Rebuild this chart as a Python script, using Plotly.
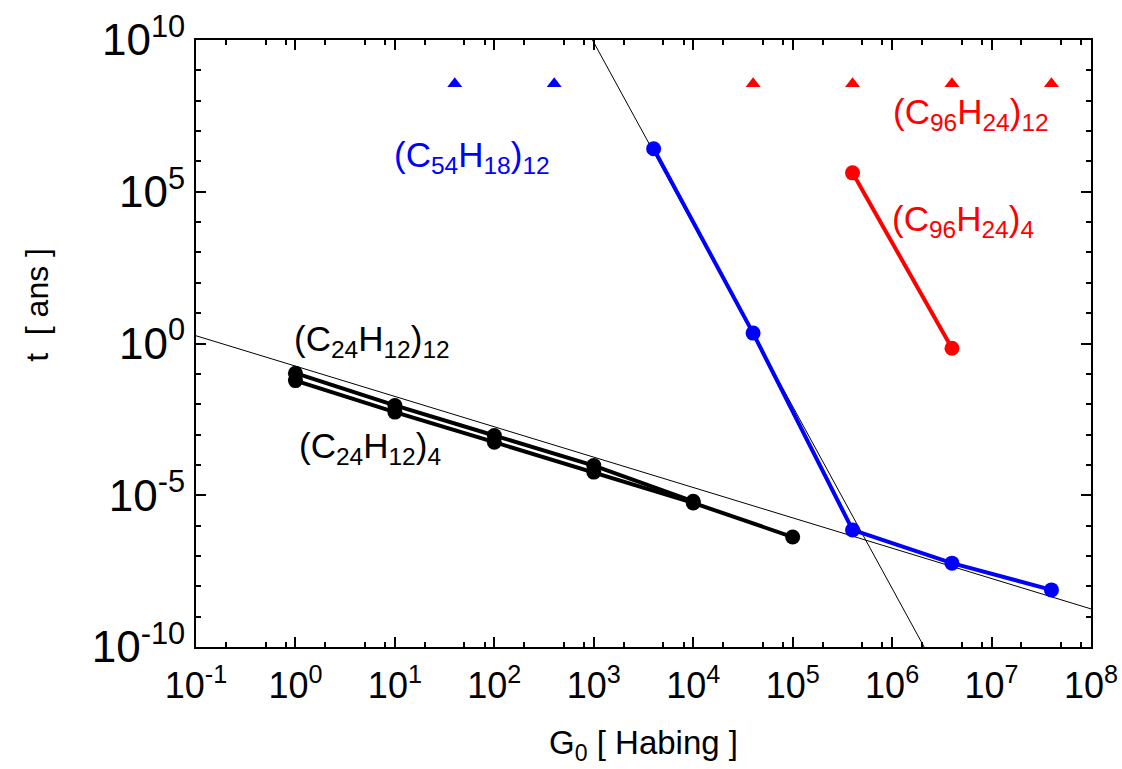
import plotly.graph_objects as go

# ---- data ----
g_c24_12 = [1, 10, 100, 1000, 1e4]
t_c24_12 = [0.105, 9.1e-3, 9.3e-4, 9.5e-5, 6.3e-6]

g_c24_4 = [1, 10, 100, 1000, 1e4, 1e5]
t_c24_4 = [0.060, 5.5e-3, 5.6e-4, 5.8e-5, 5.6e-6, 4.2e-7]

g_c54_12 = [4e3, 4e4, 4e5, 4e6, 4e7]
t_c54_12 = [2.6e6, 2.2, 7.2e-7, 5.8e-8, 7.6e-9]

g_c96_4 = [4e5, 4e6]
t_c96_4 = [4.2e5, 0.70]

g_tri_blue = [40, 400]
t_tri_blue = [3.6e8, 3.6e8]
g_tri_red = [4e4, 4e5, 4e6, 4e7]
t_tri_red = [3.6e8, 3.6e8, 3.6e8, 3.6e8]

# thin reference lines (end points)
g_refA = [0.1, 1e8]
t_refA = [1.8, 1.8e-9]
g_refB = [970, 2.1e6]
t_refB = [1e10, 1e-10]

x_tick_exp = [-1, 0, 1, 2, 3, 4, 5, 6, 7, 8]
y_tick_exp = [-10, -5, 0, 5, 10]

BLUE = "#0000ff"
RED = "#ff0000"
BLACK = "#000000"
FONT = "Liberation Sans, Arial, Helvetica, sans-serif"

fig = go.Figure()

for gx, ty in [(g_refA, t_refA), (g_refB, t_refB)]:
    fig.add_trace(go.Scatter(x=gx, y=ty, mode="lines",
                             line=dict(color=BLACK, width=1), showlegend=False,
                             hoverinfo="skip"))

def series(gx, ty, color):
    fig.add_trace(go.Scatter(x=gx, y=ty, mode="lines+markers",
                             line=dict(color=color, width=4),
                             marker=dict(color=color, size=15, symbol="circle"),
                             showlegend=False))

series(g_c24_12, t_c24_12, BLACK)
series(g_c24_4, t_c24_4, BLACK)
series(g_c54_12, t_c54_12, BLUE)
series(g_c96_4, t_c96_4, RED)

fig.add_trace(go.Scatter(x=g_tri_blue, y=t_tri_blue, mode="markers",
                         marker=dict(color=BLUE, size=13, symbol="triangle-up"),
                         showlegend=False))
fig.add_trace(go.Scatter(x=g_tri_red, y=t_tri_red, mode="markers",
                         marker=dict(color=RED, size=13, symbol="triangle-up"),
                         showlegend=False))

labels = [
    ("(C<sub>54</sub>H<sub>18</sub>)<sub>12</sub>", 1.774, 6.15, BLUE),
    ("(C<sub>96</sub>H<sub>24</sub>)<sub>12</sub>", 6.79, 7.55, RED),
    ("(C<sub>96</sub>H<sub>24</sub>)<sub>4</sub>", 6.71, 4.05, RED),
    ("(C<sub>24</sub>H<sub>12</sub>)<sub>12</sub>", 0.767, 0.07, BLACK),
    ("(C<sub>24</sub>H<sub>12</sub>)<sub>4</sub>", 0.747, -3.45, BLACK),
]
for txt, lx, ly, col in labels:
    fig.add_annotation(x=lx, y=ly, xref="x", yref="y", text=txt, showarrow=False,
                       font=dict(family=FONT, size=35, color=col),
                       xanchor="center", yanchor="middle")

# y-axis title placed as rotated annotation (reference sits above centre)
fig.add_annotation(x=-0.177, y=0.563, xref="paper", yref="paper",
                   text="t  [ ans ]", textangle=-90, showarrow=False,
                   font=dict(family=FONT, size=32, color=BLACK),
                   xanchor="center", yanchor="middle")

x_minor = [m * 10.0 ** e for e in range(-1, 8) for m in (2, 5, 8)]
y_minor = [10.0 ** e for e in range(-10, 11) if e % 5 != 0]

fig.update_xaxes(
    type="log", range=[-1, 8], automargin=False,
    tickmode="array",
    tickvals=[10.0 ** e for e in x_tick_exp],
    ticktext=[f"10<sup>{e}</sup>" for e in x_tick_exp],
    ticks="inside", ticklen=10, tickwidth=1.5, tickcolor=BLACK,
    ticklabelstandoff=6,
    minor=dict(tickmode="array", tickvals=x_minor, ticks="inside", ticklen=5,
               tickwidth=1.5, tickcolor=BLACK, showgrid=False),
    showline=True, linecolor=BLACK, linewidth=2, mirror="ticks",
    showgrid=False, zeroline=False,
    tickfont=dict(family=FONT, size=36, color=BLACK),
    title=dict(text="G<sub>0</sub> [ Habing ]",
               font=dict(family=FONT, size=33, color=BLACK), standoff=26),
)
fig.update_yaxes(
    type="log", range=[-10, 10], automargin=False,
    tickmode="array",
    tickvals=[10.0 ** e for e in y_tick_exp],
    ticktext=[f"10<sup>{e}</sup>" for e in y_tick_exp],
    ticks="inside", ticklen=10, tickwidth=1.5, tickcolor=BLACK,
    minor=dict(tickmode="array", tickvals=y_minor, ticks="inside", ticklen=5,
               tickwidth=1.5, tickcolor=BLACK, showgrid=False),
    showline=True, linecolor=BLACK, linewidth=2, mirror="ticks",
    showgrid=False, zeroline=False,
    tickfont=dict(family=FONT, size=44, color=BLACK),
)

fig.update_layout(
    width=1122, height=769,
    margin=dict(l=196, r=31, t=40, b=122),
    paper_bgcolor="white", plot_bgcolor="white",
    showlegend=False,
)

fig.write_html(
    "out.html",
    config={"displayModeBar": False},
    post_script="document.body.style.margin='0';document.body.style.overflow='hidden';",
)
